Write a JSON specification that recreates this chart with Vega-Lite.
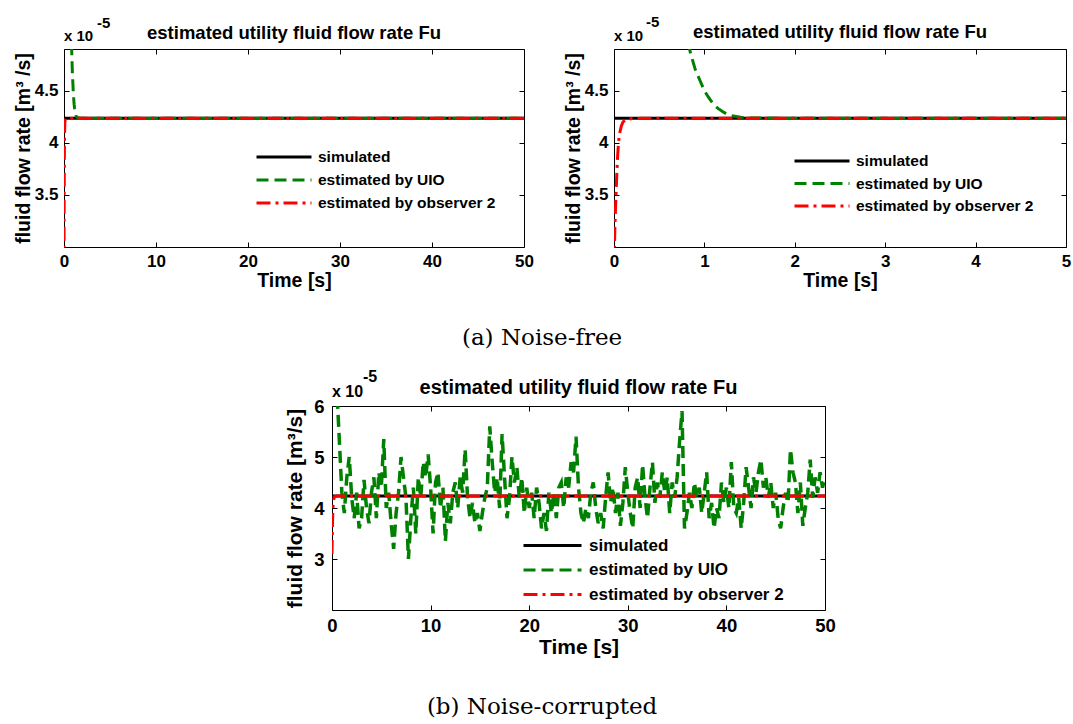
{
"$schema": "https://vega.github.io/schema/vega-lite/v6.json",
"padding": {"left": 12, "top": 14, "right": 0, "bottom": 0},
"background": "white",
"config": {"view": {"stroke": "#000000", "strokeWidth": 1}, "axis": {"grid": false}},
"title": {"text": "(b) Noise-corrupted", "orient": "bottom", "anchor": "middle", "font": "DejaVu Serif", "fontSize": 23, "fontWeight": "normal", "color": "#000000", "offset": 38},
"resolve": {"scale": {"color": "independent", "strokeDash": "independent"}, "legend": {"color": "independent", "strokeDash": "independent"}},
"datasets": {
"clean": [
{"t":0,"v":4.235,"s":"simulated"},{"t":50,"v":4.235,"s":"simulated"},
{"t":0.4,"v":11,"s":"estimated by UIO"},{"t":0.5,"v":8.2,"s":"estimated by UIO"},{"t":0.6,"v":6.5,"s":"estimated by UIO"},{"t":0.7,"v":5.6,"s":"estimated by UIO"},{"t":0.8,"v":5.02,"s":"estimated by UIO"},{"t":0.85,"v":4.85,"s":"estimated by UIO"},{"t":0.9,"v":4.7,"s":"estimated by UIO"},{"t":0.95,"v":4.6,"s":"estimated by UIO"},{"t":1.0,"v":4.5,"s":"estimated by UIO"},{"t":1.05,"v":4.43,"s":"estimated by UIO"},{"t":1.1,"v":4.37,"s":"estimated by UIO"},{"t":1.15,"v":4.33,"s":"estimated by UIO"},{"t":1.2,"v":4.3,"s":"estimated by UIO"},{"t":1.25,"v":4.275,"s":"estimated by UIO"},{"t":1.3,"v":4.26,"s":"estimated by UIO"},{"t":1.4,"v":4.245,"s":"estimated by UIO"},{"t":1.5,"v":4.24,"s":"estimated by UIO"},{"t":1.7,"v":4.237,"s":"estimated by UIO"},{"t":2,"v":4.235,"s":"estimated by UIO"},{"t":50,"v":4.235,"s":"estimated by UIO"},
{"t":0,"v":2.8,"s":"estimated by observer 2"},{"t":0.01,"v":3.2,"s":"estimated by observer 2"},{"t":0.02,"v":3.45,"s":"estimated by observer 2"},{"t":0.03,"v":3.68,"s":"estimated by observer 2"},{"t":0.04,"v":3.87,"s":"estimated by observer 2"},{"t":0.05,"v":4.0,"s":"estimated by observer 2"},{"t":0.06,"v":4.08,"s":"estimated by observer 2"},{"t":0.08,"v":4.16,"s":"estimated by observer 2"},{"t":0.1,"v":4.2,"s":"estimated by observer 2"},{"t":0.13,"v":4.222,"s":"estimated by observer 2"},{"t":0.2,"v":4.233,"s":"estimated by observer 2"},{"t":0.3,"v":4.235,"s":"estimated by observer 2"},{"t":50,"v":4.235,"s":"estimated by observer 2"}
],
"noisy": [
{"t":0,"v":4.235,"s":"simulated"},{"t":50,"v":4.235,"s":"simulated"},
{"t":0,"v":3.1,"s":"estimated by observer 2"},{"t":0.05,"v":3.7,"s":"estimated by observer 2"},{"t":0.1,"v":4.0,"s":"estimated by observer 2"},{"t":0.15,"v":4.15,"s":"estimated by observer 2"},{"t":0.25,"v":4.22,"s":"estimated by observer 2"},{"t":0.5,"v":4.235,"s":"estimated by observer 2"},{"t":50,"v":4.235,"s":"estimated by observer 2"},
{"t":0,"v":9.0,"s":"estimated by UIO"},{"t":0.25,"v":7.5,"s":"estimated by UIO"},{"t":0.5,"v":6.3,"s":"estimated by UIO"},{"t":0.75,"v":5.3,"s":"estimated by UIO"},{"t":1,"v":4.3,"s":"estimated by UIO"},{"t":1.25,"v":3.9,"s":"estimated by UIO"},{"t":1.5,"v":4.6,"s":"estimated by UIO"},{"t":1.75,"v":5.0,"s":"estimated by UIO"},
{"t":2,"v":4.2,"s":"estimated by UIO"},{"t":2.25,"v":3.8,"s":"estimated by UIO"},{"t":2.5,"v":4.3,"s":"estimated by UIO"},{"t":2.75,"v":3.6,"s":"estimated by UIO"},{"t":3,"v":3.8,"s":"estimated by UIO"},{"t":3.25,"v":4.55,"s":"estimated by UIO"},{"t":3.5,"v":4.0,"s":"estimated by UIO"},{"t":3.75,"v":3.7,"s":"estimated by UIO"},
{"t":4,"v":4.3,"s":"estimated by UIO"},{"t":4.25,"v":4.6,"s":"estimated by UIO"},{"t":4.5,"v":3.8,"s":"estimated by UIO"},{"t":4.75,"v":4.7,"s":"estimated by UIO"},{"t":5,"v":4.4,"s":"estimated by UIO"},{"t":5.25,"v":5.35,"s":"estimated by UIO"},{"t":5.5,"v":4.0,"s":"estimated by UIO"},{"t":5.75,"v":4.3,"s":"estimated by UIO"},
{"t":6,"v":3.7,"s":"estimated by UIO"},{"t":6.25,"v":3.2,"s":"estimated by UIO"},{"t":6.5,"v":3.9,"s":"estimated by UIO"},{"t":6.75,"v":4.3,"s":"estimated by UIO"},{"t":7,"v":5.0,"s":"estimated by UIO"},{"t":7.25,"v":4.6,"s":"estimated by UIO"},{"t":7.5,"v":4.2,"s":"estimated by UIO"},{"t":7.75,"v":3.0,"s":"estimated by UIO"},
{"t":8,"v":3.8,"s":"estimated by UIO"},{"t":8.25,"v":4.4,"s":"estimated by UIO"},{"t":8.5,"v":3.5,"s":"estimated by UIO"},{"t":8.75,"v":4.6,"s":"estimated by UIO"},{"t":9,"v":4.2,"s":"estimated by UIO"},{"t":9.25,"v":4.9,"s":"estimated by UIO"},{"t":9.5,"v":4.6,"s":"estimated by UIO"},{"t":9.75,"v":5.05,"s":"estimated by UIO"},
{"t":10,"v":4.4,"s":"estimated by UIO"},{"t":10.25,"v":3.5,"s":"estimated by UIO"},{"t":10.5,"v":4.5,"s":"estimated by UIO"},{"t":10.75,"v":4.7,"s":"estimated by UIO"},{"t":11,"v":4.0,"s":"estimated by UIO"},{"t":11.25,"v":4.4,"s":"estimated by UIO"},{"t":11.5,"v":3.35,"s":"estimated by UIO"},{"t":11.75,"v":4.1,"s":"estimated by UIO"},
{"t":12,"v":3.7,"s":"estimated by UIO"},{"t":12.25,"v":4.3,"s":"estimated by UIO"},{"t":12.5,"v":4.5,"s":"estimated by UIO"},{"t":12.75,"v":4.0,"s":"estimated by UIO"},{"t":13,"v":4.6,"s":"estimated by UIO"},{"t":13.25,"v":4.3,"s":"estimated by UIO"},{"t":13.5,"v":5.15,"s":"estimated by UIO"},{"t":13.75,"v":4.2,"s":"estimated by UIO"},
{"t":14,"v":3.8,"s":"estimated by UIO"},{"t":14.25,"v":4.1,"s":"estimated by UIO"},{"t":14.5,"v":3.7,"s":"estimated by UIO"},{"t":14.75,"v":3.9,"s":"estimated by UIO"},{"t":15,"v":3.55,"s":"estimated by UIO"},{"t":15.25,"v":3.9,"s":"estimated by UIO"},{"t":15.5,"v":4.2,"s":"estimated by UIO"},{"t":15.75,"v":4.4,"s":"estimated by UIO"},
{"t":16,"v":5.6,"s":"estimated by UIO"},{"t":16.25,"v":4.9,"s":"estimated by UIO"},{"t":16.5,"v":4.3,"s":"estimated by UIO"},{"t":16.75,"v":4.6,"s":"estimated by UIO"},{"t":17,"v":4.0,"s":"estimated by UIO"},{"t":17.25,"v":5.45,"s":"estimated by UIO"},{"t":17.5,"v":4.6,"s":"estimated by UIO"},{"t":17.75,"v":3.8,"s":"estimated by UIO"},
{"t":18,"v":4.2,"s":"estimated by UIO"},{"t":18.25,"v":5.0,"s":"estimated by UIO"},{"t":18.5,"v":4.5,"s":"estimated by UIO"},{"t":18.75,"v":4.8,"s":"estimated by UIO"},{"t":19,"v":4.2,"s":"estimated by UIO"},{"t":19.25,"v":4.6,"s":"estimated by UIO"},{"t":19.5,"v":3.9,"s":"estimated by UIO"},{"t":19.75,"v":4.4,"s":"estimated by UIO"},
{"t":20,"v":4.0,"s":"estimated by UIO"},{"t":20.25,"v":4.3,"s":"estimated by UIO"},{"t":20.5,"v":3.8,"s":"estimated by UIO"},{"t":20.75,"v":4.4,"s":"estimated by UIO"},{"t":21,"v":4.1,"s":"estimated by UIO"},{"t":21.25,"v":3.6,"s":"estimated by UIO"},{"t":21.5,"v":3.9,"s":"estimated by UIO"},{"t":21.75,"v":3.55,"s":"estimated by UIO"},
{"t":22,"v":4.3,"s":"estimated by UIO"},{"t":22.25,"v":3.9,"s":"estimated by UIO"},{"t":22.5,"v":4.3,"s":"estimated by UIO"},{"t":22.75,"v":3.8,"s":"estimated by UIO"},{"t":23,"v":4.4,"s":"estimated by UIO"},{"t":23.25,"v":4.5,"s":"estimated by UIO"},{"t":23.5,"v":4.0,"s":"estimated by UIO"},{"t":23.75,"v":4.6,"s":"estimated by UIO"},
{"t":24,"v":4.4,"s":"estimated by UIO"},{"t":24.25,"v":4.9,"s":"estimated by UIO"},{"t":24.5,"v":4.7,"s":"estimated by UIO"},{"t":24.75,"v":5.4,"s":"estimated by UIO"},{"t":25,"v":4.4,"s":"estimated by UIO"},{"t":25.25,"v":3.9,"s":"estimated by UIO"},{"t":25.5,"v":3.7,"s":"estimated by UIO"},{"t":25.75,"v":4.0,"s":"estimated by UIO"},
{"t":26,"v":3.8,"s":"estimated by UIO"},{"t":26.25,"v":4.3,"s":"estimated by UIO"},{"t":26.5,"v":4.5,"s":"estimated by UIO"},{"t":26.75,"v":4.0,"s":"estimated by UIO"},{"t":27,"v":3.7,"s":"estimated by UIO"},{"t":27.25,"v":3.9,"s":"estimated by UIO"},{"t":27.5,"v":3.6,"s":"estimated by UIO"},{"t":27.75,"v":4.2,"s":"estimated by UIO"},
{"t":28,"v":4.7,"s":"estimated by UIO"},{"t":28.25,"v":4.1,"s":"estimated by UIO"},{"t":28.5,"v":4.4,"s":"estimated by UIO"},{"t":28.75,"v":3.9,"s":"estimated by UIO"},{"t":29,"v":4.3,"s":"estimated by UIO"},{"t":29.25,"v":3.65,"s":"estimated by UIO"},{"t":29.5,"v":4.1,"s":"estimated by UIO"},{"t":29.75,"v":4.8,"s":"estimated by UIO"},
{"t":30,"v":4.3,"s":"estimated by UIO"},{"t":30.25,"v":3.9,"s":"estimated by UIO"},{"t":30.5,"v":3.6,"s":"estimated by UIO"},{"t":30.75,"v":4.4,"s":"estimated by UIO"},{"t":31,"v":4.6,"s":"estimated by UIO"},{"t":31.25,"v":4.0,"s":"estimated by UIO"},{"t":31.5,"v":4.85,"s":"estimated by UIO"},{"t":31.75,"v":4.2,"s":"estimated by UIO"},
{"t":32,"v":3.8,"s":"estimated by UIO"},{"t":32.25,"v":4.4,"s":"estimated by UIO"},{"t":32.5,"v":4.9,"s":"estimated by UIO"},{"t":32.75,"v":4.1,"s":"estimated by UIO"},{"t":33,"v":4.5,"s":"estimated by UIO"},{"t":33.25,"v":4.2,"s":"estimated by UIO"},{"t":33.5,"v":4.7,"s":"estimated by UIO"},{"t":33.75,"v":4.3,"s":"estimated by UIO"},
{"t":34,"v":4.6,"s":"estimated by UIO"},{"t":34.25,"v":3.9,"s":"estimated by UIO"},{"t":34.5,"v":4.5,"s":"estimated by UIO"},{"t":34.75,"v":4.2,"s":"estimated by UIO"},{"t":35,"v":4.6,"s":"estimated by UIO"},{"t":35.25,"v":5.3,"s":"estimated by UIO"},{"t":35.5,"v":5.9,"s":"estimated by UIO"},{"t":35.75,"v":3.6,"s":"estimated by UIO"},
{"t":36,"v":3.9,"s":"estimated by UIO"},{"t":36.25,"v":4.3,"s":"estimated by UIO"},{"t":36.5,"v":4.0,"s":"estimated by UIO"},{"t":36.75,"v":4.5,"s":"estimated by UIO"},{"t":37,"v":4.2,"s":"estimated by UIO"},{"t":37.25,"v":4.4,"s":"estimated by UIO"},{"t":37.5,"v":3.9,"s":"estimated by UIO"},{"t":37.75,"v":4.3,"s":"estimated by UIO"},
{"t":38,"v":4.7,"s":"estimated by UIO"},{"t":38.25,"v":3.8,"s":"estimated by UIO"},{"t":38.5,"v":4.1,"s":"estimated by UIO"},{"t":38.75,"v":3.6,"s":"estimated by UIO"},{"t":39,"v":4.0,"s":"estimated by UIO"},{"t":39.25,"v":3.8,"s":"estimated by UIO"},{"t":39.5,"v":4.5,"s":"estimated by UIO"},{"t":39.75,"v":4.1,"s":"estimated by UIO"},
{"t":40,"v":4.4,"s":"estimated by UIO"},{"t":40.25,"v":4.0,"s":"estimated by UIO"},{"t":40.5,"v":4.9,"s":"estimated by UIO"},{"t":40.75,"v":4.0,"s":"estimated by UIO"},{"t":41,"v":3.9,"s":"estimated by UIO"},{"t":41.25,"v":4.2,"s":"estimated by UIO"},{"t":41.5,"v":3.6,"s":"estimated by UIO"},{"t":41.75,"v":4.1,"s":"estimated by UIO"},
{"t":42,"v":4.8,"s":"estimated by UIO"},{"t":42.25,"v":4.4,"s":"estimated by UIO"},{"t":42.5,"v":4.0,"s":"estimated by UIO"},{"t":42.75,"v":4.6,"s":"estimated by UIO"},{"t":43,"v":4.3,"s":"estimated by UIO"},{"t":43.25,"v":4.7,"s":"estimated by UIO"},{"t":43.5,"v":4.95,"s":"estimated by UIO"},{"t":43.75,"v":4.4,"s":"estimated by UIO"},
{"t":44,"v":4.6,"s":"estimated by UIO"},{"t":44.25,"v":4.2,"s":"estimated by UIO"},{"t":44.5,"v":4.5,"s":"estimated by UIO"},{"t":44.75,"v":4.0,"s":"estimated by UIO"},{"t":45,"v":4.3,"s":"estimated by UIO"},{"t":45.25,"v":3.8,"s":"estimated by UIO"},{"t":45.5,"v":3.6,"s":"estimated by UIO"},{"t":45.75,"v":4.0,"s":"estimated by UIO"},
{"t":46,"v":4.3,"s":"estimated by UIO"},{"t":46.25,"v":4.1,"s":"estimated by UIO"},{"t":46.5,"v":5.15,"s":"estimated by UIO"},{"t":46.75,"v":4.7,"s":"estimated by UIO"},{"t":47,"v":4.5,"s":"estimated by UIO"},{"t":47.25,"v":3.9,"s":"estimated by UIO"},{"t":47.5,"v":4.5,"s":"estimated by UIO"},{"t":47.75,"v":3.65,"s":"estimated by UIO"},
{"t":48,"v":4.0,"s":"estimated by UIO"},{"t":48.25,"v":4.3,"s":"estimated by UIO"},{"t":48.5,"v":4.95,"s":"estimated by UIO"},{"t":48.75,"v":4.2,"s":"estimated by UIO"},{"t":49,"v":4.6,"s":"estimated by UIO"},{"t":49.25,"v":4.3,"s":"estimated by UIO"},{"t":49.5,"v":4.7,"s":"estimated by UIO"},{"t":49.75,"v":4.4,"s":"estimated by UIO"},
{"t":50,"v":4.6,"s":"estimated by UIO"}
]
},
"spacing": 18,
"vconcat": [
{
"resolve": {"scale": {"color": "independent", "strokeDash": "independent"}, "legend": {"color": "independent", "strokeDash": "independent"}},
"hconcat": [
{
"width": 460, "height": 198,
"data": {"name": "clean"},
"layer": [
{"transform": [{"filter": "datum.s === 'simulated'"}],
"mark": {"type": "line", "clip": true, "strokeWidth": 3},
"encoding": {
"x": {"field": "t", "type": "quantitative", "scale": {"domain": [0, 50], "nice": false, "zero": false}, "axis": {"orient": "bottom", "values": [0,10,20,30,40,50], "title": "Time [s]", "titleFont": "Liberation Sans", "titleFontSize": 19.5, "titleFontWeight": "bold", "titleColor": "#000000", "titlePadding": 2, "labelFont": "Liberation Sans", "labelFontSize": 17, "labelFontWeight": "bold", "labelColor": "#000000", "labelPadding": 11, "labelFlush": false, "labelOverlap": false, "tickSize": -5, "tickColor": "#000000", "tickWidth": 1, "domain": false, "grid": false}},
"y": {"field": "v", "type": "quantitative", "scale": {"domain": [3, 4.9], "nice": false, "zero": false}, "axis": {"orient": "left", "values": [3.5,4,4.5], "format": "~g", "title": "fluid flow rate [m³ /s]", "titleFont": "Liberation Sans", "titleFontSize": 19.5, "titleFontWeight": "bold", "titleColor": "#000000", "titlePadding": 1, "labelFont": "Liberation Sans", "labelFontSize": 17, "labelFontWeight": "bold", "labelColor": "#000000", "labelPadding": 11, "labelOverlap": false, "tickSize": -5, "tickColor": "#000000", "tickWidth": 1, "domain": false, "grid": false}},
"color": {"field": "s", "type": "nominal", "scale": {"domain": ["simulated","estimated by UIO","estimated by observer 2"], "range": ["#000000","#008000","#ff0000"]}, "legend": {"title": null, "orient": "none", "legendX": 191, "legendY": 100, "direction": "vertical", "symbolType": "stroke", "symbolSize": 3025, "symbolStrokeWidth": 3, "clipHeight": 16, "labelFont": "Liberation Sans", "labelFontSize": 15.5, "labelFontWeight": "bold", "labelColor": "#000000", "labelOffset": 5, "rowPadding": 6, "padding": 0, "labelLimit": 400}},
"strokeDash": {"field": "s", "type": "nominal", "scale": {"domain": ["simulated","estimated by UIO","estimated by observer 2"], "range": [[1,0],[12,6],[14,5,3,5]]}, "legend": {"title": null, "orient": "none", "legendX": 191, "legendY": 100, "direction": "vertical", "symbolType": "stroke", "symbolSize": 3025, "symbolStrokeWidth": 3, "clipHeight": 16, "labelFont": "Liberation Sans", "labelFontSize": 15.5, "labelFontWeight": "bold", "labelColor": "#000000", "labelOffset": 5, "rowPadding": 6, "padding": 0, "labelLimit": 400}}
}},
{"transform": [{"filter": "datum.s === 'estimated by UIO'"}],
"mark": {"type": "line", "clip": true, "strokeWidth": 3},
"encoding": {
"x": {"field": "t", "type": "quantitative", "scale": {"domain": [0, 50], "nice": false, "zero": false}, "axis": null},
"y": {"field": "v", "type": "quantitative", "scale": {"domain": [3, 4.9], "nice": false, "zero": false}, "axis": null},
"color": {"field": "s", "type": "nominal", "scale": {"domain": ["simulated","estimated by UIO","estimated by observer 2"], "range": ["#000000","#008000","#ff0000"]}, "legend": null},
"strokeDash": {"field": "s", "type": "nominal", "scale": {"domain": ["simulated","estimated by UIO","estimated by observer 2"], "range": [[1,0],[12,6],[14,5,3,5]]}, "legend": null}
}},
{"transform": [{"filter": "datum.s === 'estimated by observer 2'"}],
"mark": {"type": "line", "clip": true, "strokeWidth": 3},
"encoding": {
"x": {"field": "t", "type": "quantitative", "scale": {"domain": [0, 50], "nice": false, "zero": false}, "axis": null},
"y": {"field": "v", "type": "quantitative", "scale": {"domain": [3, 4.9], "nice": false, "zero": false}, "axis": null},
"color": {"field": "s", "type": "nominal", "scale": {"domain": ["simulated","estimated by UIO","estimated by observer 2"], "range": ["#000000","#008000","#ff0000"]}, "legend": null},
"strokeDash": {"field": "s", "type": "nominal", "scale": {"domain": ["simulated","estimated by UIO","estimated by observer 2"], "range": [[1,0],[12,6],[14,5,3,5]]}, "legend": null}
}},
{"data": {"values": [{}]},
"mark": {"type": "text", "text": "x 10", "align": "left", "baseline": "alphabetic", "dy": -8, "font": "Liberation Sans", "fontSize": 15, "fontWeight": "bold", "color": "#000000"},
"encoding": {
"x": {"datum": 0, "type": "quantitative", "scale": {"domain": [0, 50], "nice": false, "zero": false}, "axis": {"orient": "top", "values": [0,10,20,30,40,50], "labels": false, "title": null, "tickSize": -5, "tickColor": "#000000", "domain": false, "grid": false}},
"y": {"datum": 4.9, "type": "quantitative", "scale": {"domain": [3, 4.9], "nice": false, "zero": false}, "axis": {"orient": "right", "values": [3.5,4,4.5], "labels": false, "title": null, "tickSize": -5, "tickColor": "#000000", "domain": false, "grid": false}}
}},
{"data": {"values": [{}]},
"mark": {"type": "text", "text": "-5", "align": "left", "baseline": "alphabetic", "dx": 33, "dy": -21, "font": "Liberation Sans", "fontSize": 15, "fontWeight": "bold", "color": "#000000"},
"encoding": {
"x": {"datum": 0, "type": "quantitative", "scale": {"domain": [0, 50], "nice": false, "zero": false}, "axis": null},
"y": {"datum": 4.9, "type": "quantitative", "scale": {"domain": [3, 4.9], "nice": false, "zero": false}, "axis": null}
}},
{"data": {"values": [{}]},
"mark": {"type": "text", "text": "estimated utility fluid flow rate Fu", "align": "center", "baseline": "alphabetic", "dy": -10, "font": "Liberation Sans", "fontSize": 18.5, "fontWeight": "bold", "color": "#000000"},
"encoding": {
"x": {"datum": 25, "type": "quantitative", "scale": {"domain": [0, 50], "nice": false, "zero": false}, "axis": null},
"y": {"datum": 4.9, "type": "quantitative", "scale": {"domain": [3, 4.9], "nice": false, "zero": false}, "axis": null}
}}
]
},
{
"width": 452, "height": 198,
"data": {"name": "clean"},
"layer": [
{"transform": [{"filter": "datum.s === 'simulated'"}],
"mark": {"type": "line", "clip": true, "strokeWidth": 3},
"encoding": {
"x": {"field": "t", "type": "quantitative", "scale": {"domain": [0, 5], "nice": false, "zero": false}, "axis": {"orient": "bottom", "values": [0,1,2,3,4,5], "title": "Time [s]", "titleFont": "Liberation Sans", "titleFontSize": 19.5, "titleFontWeight": "bold", "titleColor": "#000000", "titlePadding": 2, "labelFont": "Liberation Sans", "labelFontSize": 17, "labelFontWeight": "bold", "labelColor": "#000000", "labelPadding": 11, "labelFlush": false, "labelOverlap": false, "tickSize": -5, "tickColor": "#000000", "tickWidth": 1, "domain": false, "grid": false}},
"y": {"field": "v", "type": "quantitative", "scale": {"domain": [3, 4.9], "nice": false, "zero": false}, "axis": {"orient": "left", "values": [3.5,4,4.5], "format": "~g", "title": "fluid flow rate [m³ /s]", "titleFont": "Liberation Sans", "titleFontSize": 19.5, "titleFontWeight": "bold", "titleColor": "#000000", "titlePadding": 1, "labelFont": "Liberation Sans", "labelFontSize": 17, "labelFontWeight": "bold", "labelColor": "#000000", "labelPadding": 11, "labelOverlap": false, "tickSize": -5, "tickColor": "#000000", "tickWidth": 1, "domain": false, "grid": false}},
"color": {"field": "s", "type": "nominal", "scale": {"domain": ["simulated","estimated by UIO","estimated by observer 2"], "range": ["#000000","#008000","#ff0000"]}, "legend": {"title": null, "orient": "none", "legendX": 179, "legendY": 104, "direction": "vertical", "symbolType": "stroke", "symbolSize": 3025, "symbolStrokeWidth": 3, "clipHeight": 16, "labelFont": "Liberation Sans", "labelFontSize": 15.5, "labelFontWeight": "bold", "labelColor": "#000000", "labelOffset": 5, "rowPadding": 5.5, "padding": 0, "labelLimit": 400}},
"strokeDash": {"field": "s", "type": "nominal", "scale": {"domain": ["simulated","estimated by UIO","estimated by observer 2"], "range": [[1,0],[12,6],[14,5,3,5]]}, "legend": {"title": null, "orient": "none", "legendX": 179, "legendY": 104, "direction": "vertical", "symbolType": "stroke", "symbolSize": 3025, "symbolStrokeWidth": 3, "clipHeight": 16, "labelFont": "Liberation Sans", "labelFontSize": 15.5, "labelFontWeight": "bold", "labelColor": "#000000", "labelOffset": 5, "rowPadding": 5.5, "padding": 0, "labelLimit": 400}}
}},
{"transform": [{"filter": "datum.s === 'estimated by UIO'"}],
"mark": {"type": "line", "clip": true, "strokeWidth": 3},
"encoding": {
"x": {"field": "t", "type": "quantitative", "scale": {"domain": [0, 5], "nice": false, "zero": false}, "axis": null},
"y": {"field": "v", "type": "quantitative", "scale": {"domain": [3, 4.9], "nice": false, "zero": false}, "axis": null},
"color": {"field": "s", "type": "nominal", "scale": {"domain": ["simulated","estimated by UIO","estimated by observer 2"], "range": ["#000000","#008000","#ff0000"]}, "legend": null},
"strokeDash": {"field": "s", "type": "nominal", "scale": {"domain": ["simulated","estimated by UIO","estimated by observer 2"], "range": [[1,0],[12,6],[14,5,3,5]]}, "legend": null}
}},
{"transform": [{"filter": "datum.s === 'estimated by observer 2'"}],
"mark": {"type": "line", "clip": true, "strokeWidth": 3},
"encoding": {
"x": {"field": "t", "type": "quantitative", "scale": {"domain": [0, 5], "nice": false, "zero": false}, "axis": null},
"y": {"field": "v", "type": "quantitative", "scale": {"domain": [3, 4.9], "nice": false, "zero": false}, "axis": null},
"color": {"field": "s", "type": "nominal", "scale": {"domain": ["simulated","estimated by UIO","estimated by observer 2"], "range": ["#000000","#008000","#ff0000"]}, "legend": null},
"strokeDash": {"field": "s", "type": "nominal", "scale": {"domain": ["simulated","estimated by UIO","estimated by observer 2"], "range": [[1,0],[12,6],[14,5,3,5]]}, "legend": null}
}},
{"data": {"values": [{}]},
"mark": {"type": "text", "text": "x 10", "align": "left", "baseline": "alphabetic", "dy": -8, "font": "Liberation Sans", "fontSize": 15, "fontWeight": "bold", "color": "#000000"},
"encoding": {
"x": {"datum": 0, "type": "quantitative", "scale": {"domain": [0, 5], "nice": false, "zero": false}, "axis": {"orient": "top", "values": [0,1,2,3,4,5], "labels": false, "title": null, "tickSize": -5, "tickColor": "#000000", "domain": false, "grid": false}},
"y": {"datum": 4.9, "type": "quantitative", "scale": {"domain": [3, 4.9], "nice": false, "zero": false}, "axis": {"orient": "right", "values": [3.5,4,4.5], "labels": false, "title": null, "tickSize": -5, "tickColor": "#000000", "domain": false, "grid": false}}
}},
{"data": {"values": [{}]},
"mark": {"type": "text", "text": "-5", "align": "left", "baseline": "alphabetic", "dx": 32, "dy": -22, "font": "Liberation Sans", "fontSize": 15, "fontWeight": "bold", "color": "#000000"},
"encoding": {
"x": {"datum": 0, "type": "quantitative", "scale": {"domain": [0, 5], "nice": false, "zero": false}, "axis": null},
"y": {"datum": 4.9, "type": "quantitative", "scale": {"domain": [3, 4.9], "nice": false, "zero": false}, "axis": null}
}},
{"data": {"values": [{}]},
"mark": {"type": "text", "text": "estimated utility fluid flow rate Fu", "align": "center", "baseline": "alphabetic", "dy": -11, "font": "Liberation Sans", "fontSize": 18.5, "fontWeight": "bold", "color": "#000000"},
"encoding": {
"x": {"datum": 2.5, "type": "quantitative", "scale": {"domain": [0, 5], "nice": false, "zero": false}, "axis": null},
"y": {"datum": 4.9, "type": "quantitative", "scale": {"domain": [3, 4.9], "nice": false, "zero": false}, "axis": null}
}}
]
}
],
"spacing": 90,
"bounds": "flush",
"title": {"text": "(a) Noise-free", "orient": "bottom", "anchor": "middle", "font": "DejaVu Serif", "fontSize": 23, "fontWeight": "normal", "color": "#000000", "offset": 37}
},
{
"resolve": {"scale": {"color": "independent", "strokeDash": "independent"}, "legend": {"color": "independent", "strokeDash": "independent"}},
"hconcat": [
{"width": 248, "height": 204, "view": {"stroke": null}, "data": {"values": [{}]}, "mark": {"type": "text", "text": ""}},
{
"width": 493, "height": 204,
"data": {"name": "noisy"},
"layer": [
{"transform": [{"filter": "datum.s === 'simulated'"}],
"mark": {"type": "line", "clip": true, "strokeWidth": 3},
"encoding": {
"x": {"field": "t", "type": "quantitative", "scale": {"domain": [0, 50], "nice": false, "zero": false}, "axis": {"orient": "bottom", "values": [0,10,20,30,40,50], "title": "Time [s]", "titleFont": "Liberation Sans", "titleFontSize": 21, "titleFontWeight": "bold", "titleColor": "#000000", "titlePadding": 2, "labelFont": "Liberation Sans", "labelFontSize": 18.5, "labelFontWeight": "bold", "labelColor": "#000000", "labelPadding": 11, "labelFlush": false, "labelOverlap": false, "tickSize": -5, "tickColor": "#000000", "tickWidth": 1, "domain": false, "grid": false}},
"y": {"field": "v", "type": "quantitative", "scale": {"domain": [2, 6], "nice": false, "zero": false}, "axis": {"orient": "left", "values": [3,4,5,6], "format": "~g", "title": "fluid flow rate [m³/s]", "titleFont": "Liberation Sans", "titleFontSize": 21, "titleFontWeight": "bold", "titleColor": "#000000", "titlePadding": 8, "labelFont": "Liberation Sans", "labelFontSize": 18.5, "labelFontWeight": "bold", "labelColor": "#000000", "labelPadding": 13, "labelOverlap": false, "tickSize": -5, "tickColor": "#000000", "tickWidth": 1, "domain": false, "grid": false}},
"color": {"field": "s", "type": "nominal", "scale": {"domain": ["simulated","estimated by UIO","estimated by observer 2"], "range": ["#000000","#008000","#ff0000"]}, "legend": {"title": null, "orient": "none", "legendX": 190, "legendY": 131, "direction": "vertical", "symbolType": "stroke", "symbolSize": 3364, "symbolStrokeWidth": 3, "clipHeight": 17, "labelFont": "Liberation Sans", "labelFontSize": 17, "labelFontWeight": "bold", "labelColor": "#000000", "labelOffset": 6, "rowPadding": 6.5, "padding": 0, "labelLimit": 400}},
"strokeDash": {"field": "s", "type": "nominal", "scale": {"domain": ["simulated","estimated by UIO","estimated by observer 2"], "range": [[1,0],[12,6],[14,5,3,5]]}, "legend": {"title": null, "orient": "none", "legendX": 190, "legendY": 131, "direction": "vertical", "symbolType": "stroke", "symbolSize": 3364, "symbolStrokeWidth": 3, "clipHeight": 17, "labelFont": "Liberation Sans", "labelFontSize": 17, "labelFontWeight": "bold", "labelColor": "#000000", "labelOffset": 6, "rowPadding": 6.5, "padding": 0, "labelLimit": 400}}
}},
{"transform": [{"filter": "datum.s === 'estimated by UIO'"}],
"mark": {"type": "line", "clip": true, "strokeWidth": 3.5},
"encoding": {
"x": {"field": "t", "type": "quantitative", "scale": {"domain": [0, 50], "nice": false, "zero": false}, "axis": null},
"y": {"field": "v", "type": "quantitative", "scale": {"domain": [2, 6], "nice": false, "zero": false}, "axis": null},
"color": {"field": "s", "type": "nominal", "scale": {"domain": ["simulated","estimated by UIO","estimated by observer 2"], "range": ["#000000","#008000","#ff0000"]}, "legend": null},
"strokeDash": {"field": "s", "type": "nominal", "scale": {"domain": ["simulated","estimated by UIO","estimated by observer 2"], "range": [[1,0],[12,6],[14,5,3,5]]}, "legend": null}
}},
{"transform": [{"filter": "datum.s === 'estimated by observer 2'"}],
"mark": {"type": "line", "clip": true, "strokeWidth": 3},
"encoding": {
"x": {"field": "t", "type": "quantitative", "scale": {"domain": [0, 50], "nice": false, "zero": false}, "axis": null},
"y": {"field": "v", "type": "quantitative", "scale": {"domain": [2, 6], "nice": false, "zero": false}, "axis": null},
"color": {"field": "s", "type": "nominal", "scale": {"domain": ["simulated","estimated by UIO","estimated by observer 2"], "range": ["#000000","#008000","#ff0000"]}, "legend": null},
"strokeDash": {"field": "s", "type": "nominal", "scale": {"domain": ["simulated","estimated by UIO","estimated by observer 2"], "range": [[1,0],[12,6],[14,5,3,5]]}, "legend": null}
}},
{"data": {"values": [{}]},
"mark": {"type": "text", "text": "x 10", "align": "left", "baseline": "alphabetic", "dy": -9, "font": "Liberation Sans", "fontSize": 16, "fontWeight": "bold", "color": "#000000"},
"encoding": {
"x": {"datum": 0, "type": "quantitative", "scale": {"domain": [0, 50], "nice": false, "zero": false}, "axis": {"orient": "top", "values": [0,10,20,30,40,50], "labels": false, "title": null, "tickSize": -5, "tickColor": "#000000", "domain": false, "grid": false}},
"y": {"datum": 6, "type": "quantitative", "scale": {"domain": [2, 6], "nice": false, "zero": false}, "axis": {"orient": "right", "values": [3,4,5,6], "labels": false, "title": null, "tickSize": -5, "tickColor": "#000000", "domain": false, "grid": false}}
}},
{"data": {"values": [{}]},
"mark": {"type": "text", "text": "-5", "align": "left", "baseline": "alphabetic", "dx": 31, "dy": -24, "font": "Liberation Sans", "fontSize": 16, "fontWeight": "bold", "color": "#000000"},
"encoding": {
"x": {"datum": 0, "type": "quantitative", "scale": {"domain": [0, 50], "nice": false, "zero": false}, "axis": null},
"y": {"datum": 6, "type": "quantitative", "scale": {"domain": [2, 6], "nice": false, "zero": false}, "axis": null}
}},
{"data": {"values": [{}]},
"mark": {"type": "text", "text": "estimated utility fluid flow rate Fu", "align": "center", "baseline": "alphabetic", "dy": -12, "font": "Liberation Sans", "fontSize": 20, "fontWeight": "bold", "color": "#000000"},
"encoding": {
"x": {"datum": 25, "type": "quantitative", "scale": {"domain": [0, 50], "nice": false, "zero": false}, "axis": null},
"y": {"datum": 6, "type": "quantitative", "scale": {"domain": [2, 6], "nice": false, "zero": false}, "axis": null}
}}
]
}
],
"spacing": 20,
"bounds": "flush"
}
]
}
